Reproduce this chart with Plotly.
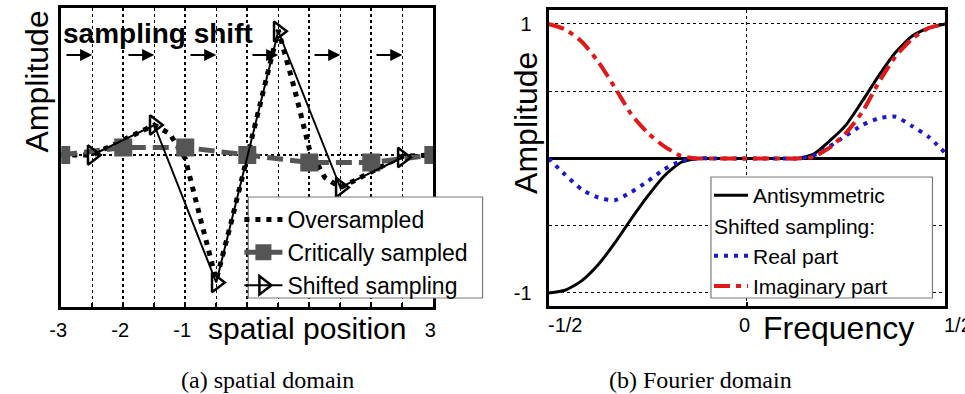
import plotly.graph_objects as go

# ---------------- data: (a) spatial domain ----------------
over_x = [-3, -2.75, -2.5, -2.25, -2, -1.75, -1.5, -1.25, -1, -0.75, -0.5, -0.25,
          0, 0.25, 0.5, 0.75, 1, 1.25, 1.5, 1.75, 2, 2.25, 2.5, 2.75, 3]
over_y = [0, 0, 0.0, 0.06, 0.12, 0.18, 0.24, 0.17, -0.03, -0.52, -1.0, -0.52,
          0, 0.52, 1.0, 0.55, 0.05, -0.18, -0.26, -0.2, -0.13, -0.07, -0.01, 0, 0]
crit_x = [-3, -2, -1, 0, 1, 2, 3]
crit_y = [0, 0.06, 0.06, 0, -0.06, -0.06, 0]
shift_x = [-2.5, -1.5, -0.5, 0.5, 1.5, 2.5]
shift_y = [0.0, 0.24, -1.02, 0.99, -0.26, -0.02]
arrow_start = [-3, -2, -1, 0, 1, 2]
arrow_step = 0.5
left_ticks = [-3, -2, -1, 0, 1, 2, 3]
left_ticktext = ['-3', '-2', '-1', '', '', '', '3']

# ---------------- data: (b) Fourier domain ----------------
freq = [-0.5, -0.4583, -0.4167, -0.375, -0.3333, -0.2917, -0.25, -0.2083, -0.1667,
        -0.125, -0.0833, -0.0417, 0, 0.0417, 0.0833, 0.125,
        0.1667, 0.2083, 0.25, 0.2917, 0.3333, 0.375, 0.4167, 0.4583, 0.5]
antisym = [-1.0, -0.98, -0.91, -0.79, -0.63, -0.45, -0.28, -0.13, -0.03,
           0, 0, 0, 0, 0, 0, 0,
           0.03, 0.13, 0.25, 0.43, 0.62, 0.79, 0.91, 0.97, 1.0]
real_part = [0, -0.12, -0.23, -0.29, -0.31, -0.25, -0.17, -0.08, -0.02,
             0, 0, 0, 0, 0, 0, 0,
             0.02, 0.09, 0.17, 0.25, 0.30, 0.31, 0.24, 0.16, 0.04]
imag_part = [1.0, 0.96, 0.87, 0.72, 0.53, 0.33, 0.19, 0.09, 0.02,
             0, 0, 0, 0, 0, 0, 0,
             0.01, 0.08, 0.19, 0.35, 0.57, 0.76, 0.89, 0.97, 1.0]
freq_tickvals = [-0.5, 0, 0.5]
freq_ticktext = ['-1/2', '0', '1/2']
amp_tickvals = [-1, -0.5, 0, 0.5, 1]
amp_ticktext = ['-1', '', '', '', '1']

SANS = "Liberation Sans, Arial, sans-serif"
SERIF = "Liberation Serif, Times New Roman, serif"
W, H = 965, 394

fig = go.Figure()

# left panel traces
fig.add_trace(go.Scatter(x=over_x, y=over_y, mode='lines', name='Oversampled',
                         line=dict(color='black', width=5, dash='5px,6px'),
                         xaxis='x', yaxis='y', legend='legend'))
fig.add_trace(go.Scatter(x=crit_x, y=crit_y, mode='lines+markers', name='Critically sampled',
                         line=dict(color='#555555', width=5, dash='16px,7px'),
                         marker=dict(symbol='square', size=18, color='#555555'),
                         xaxis='x', yaxis='y', legend='legend'))
fig.add_trace(go.Scatter(x=shift_x, y=shift_y, mode='lines+markers', name='Shifted sampling',
                         line=dict(color='black', width=2),
                         marker=dict(symbol='triangle-right-open', size=17,
                                     color='black', line=dict(width=2.5, color='black')),
                         xaxis='x', yaxis='y', legend='legend'))

# right panel traces
fig.add_trace(go.Scatter(x=freq, y=antisym, mode='lines', name='Antisymmetric',
                         line=dict(color='black', width=3, shape='spline', smoothing=0.6),
                         xaxis='x2', yaxis='y2', legend='legend2', legendgroup='a'))
fig.add_trace(go.Scatter(x=freq, y=real_part, mode='lines', name='Real part',
                         line=dict(color='#1a1acc', width=4, dash='4px,6px',
                                   shape='spline', smoothing=0.6),
                         xaxis='x2', yaxis='y2', legend='legend2', legendgroup='b',
                         legendgrouptitle=dict(text='Shifted sampling:',
                                               font=dict(family=SANS, size=21, color='black'))))
fig.add_trace(go.Scatter(x=freq, y=imag_part, mode='lines', name='Imaginary part',
                         line=dict(color='#e01818', width=4, dash='16px,6px,5px,6px',
                                   shape='spline', smoothing=0.6),
                         xaxis='x2', yaxis='y2', legend='legend2', legendgroup='b'))


def px_x(v):
    return v / W


def px_y(v):
    return 1 - v / H


annotations = []
# sampling-shift arrows
for s in arrow_start:
    annotations.append(dict(x=s + arrow_step, y=0.8, ax=s + 0.06, ay=0.8,
                            xref='x', yref='y', axref='x', ayref='y', text='',
                            showarrow=True, arrowhead=2, arrowsize=1.1,
                            arrowwidth=2.2, arrowcolor='black'))
annotations.append(dict(x=-3.0, y=0.975, xref='x', yref='y', xanchor='left',
                        yanchor='middle', showarrow=False, text='<b>sampling shift</b>',
                        font=dict(family=SANS, size=28, color='black')))
# axis titles
annotations.append(dict(x=px_x(25), y=px_y(82), xref='paper', yref='paper',
                        xanchor='center', yanchor='middle',
                        text='Amplitude', textangle=-90, showarrow=False,
                        font=dict(family=SANS, size=32, color='black')))
annotations.append(dict(x=px_x(522), y=px_y(123), xref='paper', yref='paper',
                        xanchor='center', yanchor='middle',
                        text='Amplitude', textangle=-90, showarrow=False,
                        font=dict(family=SANS, size=32, color='black')))
annotations.append(dict(x=px_x(300), y=px_y(328), xref='paper', yref='paper',
                        xanchor='center', yanchor='middle',
                        text='spatial position', showarrow=False,
                        font=dict(family=SANS, size=30, color='black')))
annotations.append(dict(x=px_x(840), y=px_y(328), xref='paper', yref='paper',
                        xanchor='center', yanchor='middle',
                        text='Frequency', showarrow=False,
                        font=dict(family=SANS, size=32, color='black')))
# frequency tick labels (MATLAB-like placement)
for v, t in zip(freq_tickvals, freq_ticktext):
    annotations.append(dict(x=v, y=px_y(325), xref='x2', yref='paper',
                            text=t, showarrow=False, yanchor='middle',
                            xanchor='center' if v == 0 else 'left',
                            xshift=-2 if v == 0 else -3,
                            font=dict(family=SANS, size=20, color='black')))
# captions
annotations.append(dict(x=px_x(260), y=px_y(380), xref='paper', yref='paper',
                        xanchor='center', yanchor='middle',
                        text='(a) spatial domain', showarrow=False,
                        font=dict(family=SERIF, size=24, color='black')))
annotations.append(dict(x=px_x(699), y=px_y(380), xref='paper', yref='paper',
                        xanchor='center', yanchor='middle',
                        text='(b) Fourier domain', showarrow=False,
                        font=dict(family=SERIF, size=24, color='black')))

# legend frames (MATLAB-style boxes)
shapes = [
    dict(type='rect', xref='paper', yref='paper', layer='above',
         x0=px_x(240), x1=px_x(478), y0=px_y(298), y1=px_y(197),
         fillcolor='white', line=dict(color='#7a7a7a', width=1.2)),
    dict(type='rect', xref='paper', yref='paper', layer='above',
         x0=px_x(710), x1=px_x(935), y0=px_y(298), y1=px_y(177),
         fillcolor='white', line=dict(color='#7a7a7a', width=1.2)),
]

axis_line = dict(showline=True, mirror=True, linecolor='black', linewidth=3, zeroline=False)

fig.update_layout(
    width=W, height=H,
    margin=dict(l=0, r=0, t=0, b=0),
    paper_bgcolor='white', plot_bgcolor='white',
    font=dict(family=SANS, size=20, color='black'),
    xaxis=dict(domain=[px_x(50), px_x(428)], range=[-3, 3],
               tickvals=left_ticks, ticktext=left_ticktext,
               ticks='inside', ticklen=4, tickwidth=2, tickcolor='black',
               showgrid=True, gridcolor='black', gridwidth=2, griddash='dot',
               minor=dict(dtick=0.5, tick0=-3, showgrid=True, gridcolor='black',
                          gridwidth=1, griddash='dot', ticks='inside', ticklen=4,
                          tickcolor='black'),
               tickfont=dict(size=20), ticklabelstandoff=3, ticklabelshift=-3,
               anchor='y', **axis_line),
    yaxis=dict(domain=[px_y(307), px_y(8)], range=[-1.216, 1.176],
               tickvals=[0], showticklabels=False, ticks='',
               showgrid=True, gridcolor='black', gridwidth=1.5, griddash='dot',
               anchor='x', **axis_line),
    xaxis2=dict(domain=[px_x(545), px_x(948)], range=[-0.5, 0.5],
                tickvals=freq_tickvals, showticklabels=False,
                ticks='inside', ticklen=4, tickwidth=2, tickcolor='black',
                showgrid=True, gridcolor='black', gridwidth=1, griddash='dot',
                anchor='y2', **axis_line),
    yaxis2=dict(domain=[px_y(306), px_y(10)], range=[-1.097, 1.104],
                tickvals=amp_tickvals, ticktext=amp_ticktext, ticks='',
                showgrid=True, gridcolor='black', gridwidth=1, griddash='dot',
                tickfont=dict(size=20), ticklabelstandoff=10,
                anchor='x2', showline=True, mirror=True, linecolor='black', linewidth=3,
                zeroline=True, zerolinecolor='black', zerolinewidth=3),
    legend=dict(x=px_x(231), y=px_y(198), xanchor='left', yanchor='top',
                bgcolor='rgba(0,0,0,0)', borderwidth=0,
                font=dict(family=SANS, size=23, color='black'),
                itemwidth=38, tracegroupgap=0),
    legend2=dict(x=px_x(708), y=px_y(175), xanchor='left', yanchor='top',
                 bgcolor='rgba(0,0,0,0)', borderwidth=0,
                 font=dict(family=SANS, size=21, color='black'),
                 itemwidth=34, tracegroupgap=0, traceorder='grouped'),
    shapes=shapes,
    annotations=annotations,
    showlegend=True,
)

fig.write_html("out.html", config={'displayModeBar': False},
               post_script="document.body.style.margin='0px';document.body.style.overflow='hidden';")
